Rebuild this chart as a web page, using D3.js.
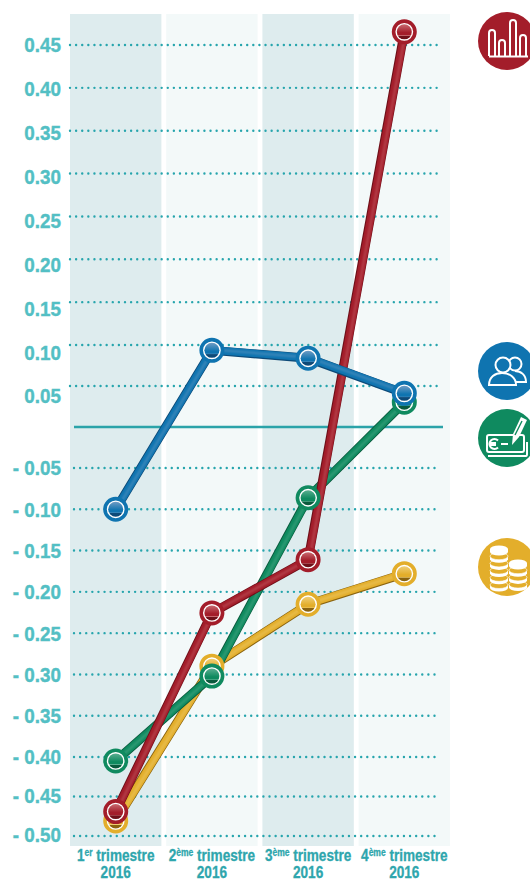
<!DOCTYPE html>
<html>
<head>
<meta charset="utf-8">
<script src="https://d3js.org/d3.v7.min.js"></script>
<style>
html, body { margin: 0; padding: 0; background: #fff; }
svg { display: block; }
text { font-family: 'Liberation Sans', sans-serif; font-weight: bold; }
</style>
</head>
<body>
<svg id="chart" width="530" height="881"></svg>
<script>
var quarters = ['1', '2', '3', '4'];
var quarterSuffix = ['er', 'ème', 'ème', 'ème'];
var tickValues = [0.45, 0.40, 0.35, 0.30, 0.25, 0.20, 0.15, 0.10, 0.05,
	-0.05, -0.10, -0.15, -0.20, -0.25, -0.30, -0.35, -0.40, -0.45, -0.50];

var yellowValues = [-0.482, -0.29, -0.215, -0.178];
var greenValues = [-0.405, -0.302, -0.086, 0.04];
var redValues = [-0.47, -0.2255, -0.161, 0.465];
var blueValues = [-0.10, 0.102, 0.093, 0.053];

var svg = d3.select('#chart');
var defs = svg.append('defs');

// the original axis is hand drawn, so both scales are piecewise
var y = d3.scaleLinear()
	.domain([-0.50, -0.40, -0.05, 0, 0.05, 0.45])
	.range([835, 757, 468, 427, 396, 45]);

var gridY = d3.scaleLinear()
	.domain([-0.50, -0.40, -0.05, 0, 0.05, 0.10, 0.45])
	.range([836, 757, 468, 427, 386, 345, 45]);

var x = d3.scaleBand()
	.domain(quarters)
	.range([70, 450])
	.paddingInner(0.05);

var yellow = {name: 'yellow', values: yellowValues, color: '#e3ae2b', dark: '#8a6410', light: '#efcf78'};
var green = {name: 'green', values: greenValues, color: '#0f8a5f', dark: '#0a5a3d', light: '#5aae90'};
var red = {name: 'red', values: redValues, color: '#a31d2a', dark: '#6e1019', light: '#c96a70'};
var blue = {name: 'blue', values: blueValues, color: '#0f74b0', dark: '#0d4a78', light: '#6f9cc4'};
var series = [yellow, green, red, blue];

defs.append('filter')
	.attr('id', 'soft')
	.append('feGaussianBlur')
	.attr('stdDeviation', 0.8);

// bands
svg.append('g').selectAll('rect')
	.data(quarters)
	.enter()
	.append('rect')
	.attr('x', d => x(d))
	.attr('y', 14)
	.attr('width', x.bandwidth())
	.attr('height', 832)
	.attr('fill', (d, i) => i % 2 ? '#f3f9f9' : '#deecee');

// dotted grid
svg.append('g').selectAll('line')
	.data(tickValues)
	.enter()
	.append('line')
	.attr('x1', d => d < 0 ? 74 : 70)
	.attr('x2', 440)
	.attr('y1', d => gridY(d))
	.attr('y2', d => gridY(d))
	.attr('stroke', '#27a5ad')
	.attr('stroke-width', 2.4)
	.attr('stroke-linecap', 'round')
	.attr('stroke-dasharray', '0.01 6.1');

// zero line
svg.append('line')
	.attr('x1', 74)
	.attr('x2', 443)
	.attr('y1', gridY(0))
	.attr('y2', gridY(0))
	.attr('stroke', '#2ba3a9')
	.attr('stroke-width', 2.6);

// y labels
svg.append('g').selectAll('text')
	.data(tickValues)
	.enter()
	.append('text')
	.attr('transform', d => `translate(61,${y(d)}) scale(0.92,1)`)
	.attr('dy', '0.36em')
	.attr('text-anchor', 'end')
	.attr('font-size', 20.5)
	.attr('fill', '#53bfc4')
	.attr('stroke', '#53bfc4')
	.attr('stroke-width', 0.4)
	.text(d => (d < 0 ? '- ' : '') + Math.abs(d).toFixed(2));

var px = i => x(quarters[i]) + x.bandwidth() / 2;

// x labels
var xLabels = svg.append('g').selectAll('text')
	.data(quarters)
	.enter()
	.append('text')
	.attr('transform', (d, i) => `translate(${px(i)},0) scale(0.85,1)`)
	.attr('text-anchor', 'middle')
	.attr('font-size', 16)
	.attr('fill', '#2ea6ad')
	.attr('stroke', '#2ea6ad')
	.attr('stroke-width', 0.3);

xLabels.append('tspan')
	.attr('x', 0)
	.attr('y', 861)
	.text(d => d);
xLabels.append('tspan')
	.attr('font-size', 10)
	.attr('dy', -5)
	.text((d, i) => quarterSuffix[i]);
xLabels.append('tspan')
	.attr('dy', 5)
	.text(' trimestre');
xLabels.append('tspan')
	.attr('x', 0)
	.attr('y', 878)
	.text('2016');

var line = d3.line()
	.x((d, i) => px(i))
	.y(d => y(d));

// lines first, dots on top of all of them
var lines = svg.append('g');
series.forEach(function(s) {
	var g = lines.append('g').attr('class', 'line-' + s.name);
	g.append('path')
		.attr('d', line(s.values))
		.attr('fill', 'none')
		.attr('stroke', s.dark)
		.attr('stroke-width', 9);
	g.append('path')
		.attr('d', line(s.values))
		.attr('fill', 'none')
		.attr('stroke', s.color)
		.attr('stroke-width', 7.4)
		.attr('transform', 'translate(0.4,-0.4)');
	g.append('path')
		.attr('d', line(s.values))
		.attr('fill', 'none')
		.attr('stroke', s.light)
		.attr('stroke-width', 2)
		.attr('stroke-opacity', 0.55)
		.attr('filter', 'url(#soft)')
		.attr('transform', 'translate(1.4,-0.8)');
});

var dotsLayer = svg.append('g');
series.forEach(function(s) {
	var grad = defs.append('linearGradient')
		.attr('id', 'ball-' + s.name)
		.attr('x1', 0).attr('x2', 0).attr('y1', 0).attr('y2', 1);
	grad.append('stop').attr('offset', '0%').attr('stop-color', s.light);
	grad.append('stop').attr('offset', '55%').attr('stop-color', s.color);
	grad.append('stop').attr('offset', '70%').attr('stop-color', s.color);
	grad.append('stop').attr('offset', '74%').attr('stop-color', s.light);
	grad.append('stop').attr('offset', '78%').attr('stop-color', s.dark);
	grad.append('stop').attr('offset', '100%').attr('stop-color', s.dark);

	var dots = dotsLayer.append('g').selectAll('g')
		.data(s.values)
		.enter()
		.append('g')
		.attr('transform', (d, i) => `translate(${px(i)},${y(d)})`);
	dots.append('circle')
		.attr('r', 10.7)
		.attr('fill', '#fff')
		.attr('stroke', s.color)
		.attr('stroke-width', 3.6);
	dots.append('circle')
		.attr('r', 7.5)
		.attr('fill', `url(#ball-${s.name})`);
});

// category icons
var iconData = [
	{color: red.color, cy: 41},
	{color: blue.color, cy: 371},
	{color: green.color, cy: 438},
	{color: yellow.color, cy: 567}
];
var iconG = svg.append('g').selectAll('g')
	.data(iconData)
	.enter()
	.append('g')
	.attr('transform', d => `translate(507,${d.cy})`);
iconG.append('circle')
	.attr('r', 29)
	.attr('fill', d => d.color);

var white = sel => sel.attr('fill', 'none').attr('stroke', '#fff').attr('stroke-width', 2);

// bars icon
var barsIcon = d3.select(iconG.nodes()[0]);
[[-15, -11], [-5, -1], [6, -21], [16, -6]].forEach(function(b) {
	white(barsIcon.append('path'))
		.attr('d', `M${b[0] - 3},15V${b[1] + 3}a3,3 0 0 1 6,0V15`);
});
white(barsIcon.append('path')).attr('d', 'M-18,15.5H21');

// people icon
var peopleIcon = d3.select(iconG.nodes()[1]);
white(peopleIcon.append('circle')).attr('cx', 8).attr('cy', -7).attr('r', 6.5);
white(peopleIcon.append('path')).attr('d', 'M9,11H19C19,4 14,0 8,0');
peopleIcon.append('circle').attr('cx', -4).attr('cy', -6).attr('r', 7.5)
	.attr('fill', blue.color).attr('stroke', '#fff').attr('stroke-width', 2);
peopleIcon.append('path').attr('d', 'M-18,14C-18,6 -12,2 -5,2C2,2 9,6 9,14Z')
	.attr('fill', blue.color).attr('stroke', '#fff').attr('stroke-width', 2);

// cheque icon
var chequeIcon = d3.select(iconG.nodes()[2]);
white(chequeIcon.append('rect')).attr('x', -20).attr('y', -3).attr('width', 37).attr('height', 17).attr('rx', 2);
white(chequeIcon.append('path')).attr('d', 'M-19,18H19C20,18 20,17 20,16V4');
white(chequeIcon.append('path')).attr('d', 'M-9,2.5A5,5 0 1 0 -9,9.5M-17,5H-11M-17,7H-11M-6,6H1');
chequeIcon.append('path').attr('d', 'M5,7L6,-4L14,-21L20,-18L12,-1Z').attr('fill', '#fff');
chequeIcon.append('path').attr('d', 'M8,-3L15,-17').attr('stroke', green.color).attr('stroke-width', 1.4);

// coins icon
var coinsIcon = d3.select(iconG.nodes()[3]);
function coinStack(cx, n, rx, topY) {
	d3.range(n).forEach(function(i) {
		var cy = topY + (n - 1 - i) * 7.2;
		coinsIcon.append('path')
			.attr('d', `M${cx - rx},${cy}v3a${rx},3.5 0 0 0 ${rx * 2},0v-3Z`)
			.attr('fill', '#fff');
		coinsIcon.append('ellipse')
			.attr('cx', cx).attr('cy', cy).attr('rx', rx).attr('ry', 3.5)
			.attr('fill', i === n - 1 ? '#fff' : yellow.color)
			.attr('stroke', i === n - 1 ? 'none' : '#fff')
			.attr('stroke-width', 0.6);
	});
}
coinStack(-8, 6, 9, -18);
coinStack(11, 4, 9, -4);
</script>
</body>
</html>
